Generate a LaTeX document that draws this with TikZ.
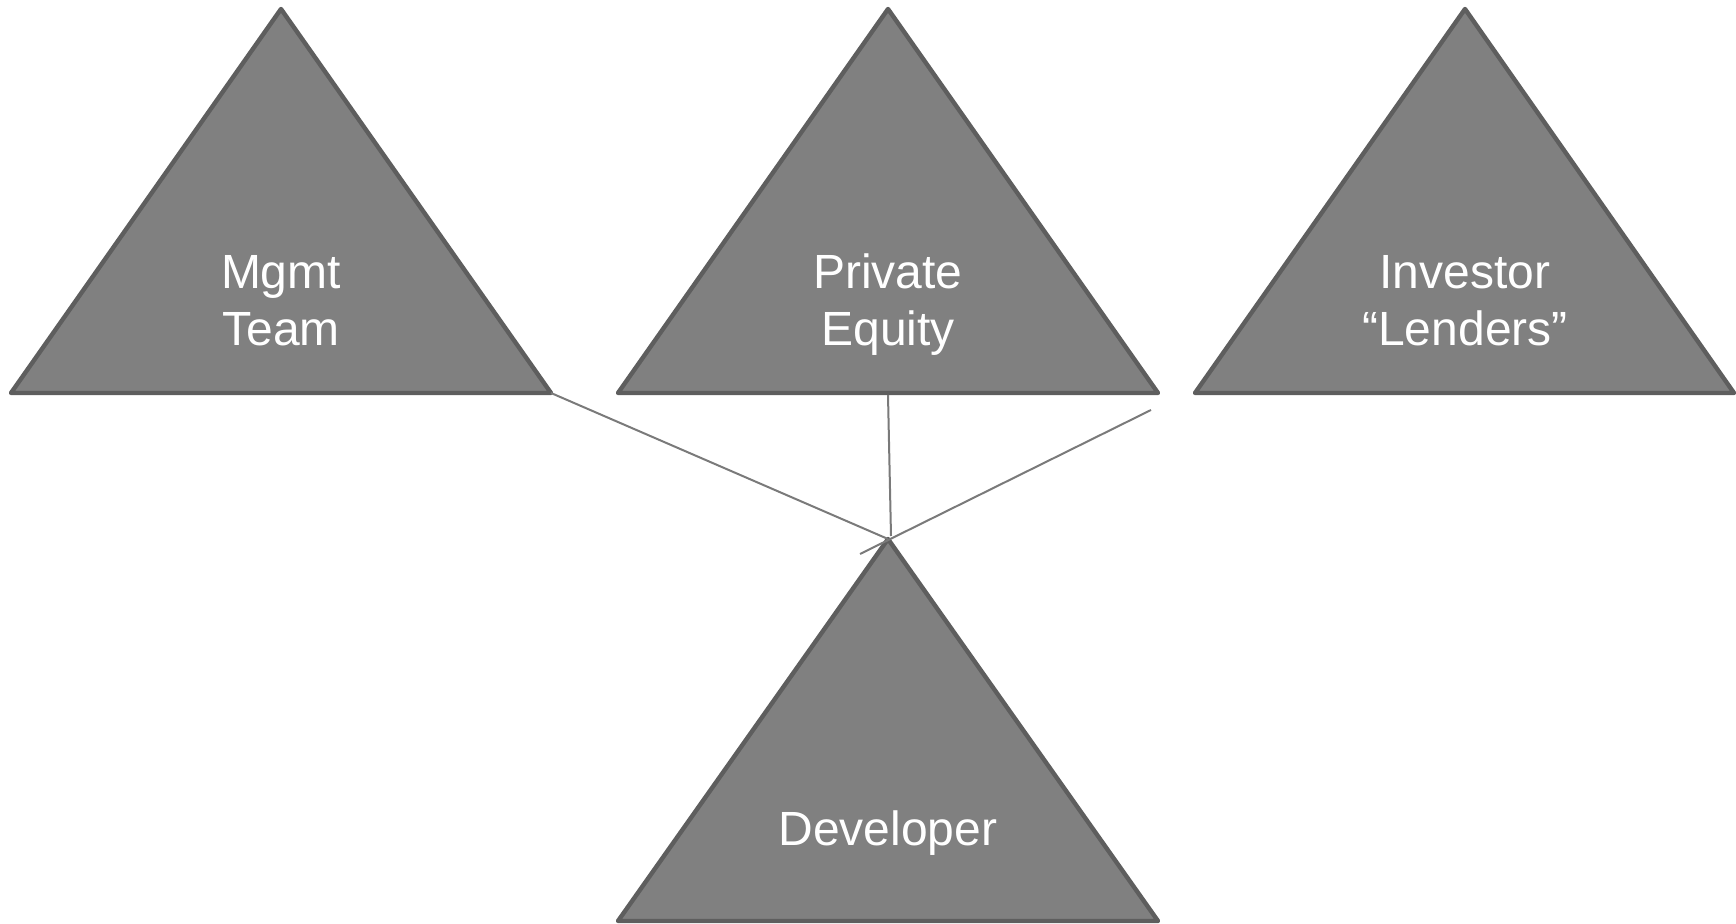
\documentclass[tikz,border=0pt]{standalone}
\usepackage{fontspec}
\setmainfont{Liberation Sans}
\definecolor{trifill}{HTML}{808080}
\definecolor{triline}{HTML}{5E5E5E}
\definecolor{connline}{HTML}{7A7A7A}
\begin{document}
\begin{tikzpicture}[x=0.5pt,y=-0.5pt,
  tri/.style={fill=trifill, draw=triline, line width=2.2pt, line join=round},
  lbl/.style={text=white, font=\fontsize{24}{28.8}\selectfont, inner sep=0pt, anchor=base},
  conn/.style={draw=connline, line width=1pt}]
\useasboundingbox (0,0) rectangle (1736,924);
% triangle corners
\coordinate (mA) at (281,9);   \coordinate (mL) at (11,393);  \coordinate (mR) at (551,393);
\coordinate (pA) at (888,9);   \coordinate (pL) at (618,393); \coordinate (pR) at (1158,393);
\coordinate (iA) at (1465,9);  \coordinate (iL) at (1195,393); \coordinate (iR) at (1734,393);
\coordinate (dA) at (888,539); \coordinate (dL) at (618,921); \coordinate (dR) at (1158,921);
\draw[tri] (mA) -- (mR) -- (mL) -- cycle;
\draw[tri] (pA) -- (pR) -- (pL) -- cycle;
\draw[tri] (iA) -- (iR) -- (iL) -- cycle;
\draw[tri] (dA) -- (dR) -- (dL) -- cycle;
% labels
\node[lbl] (m1) at (281,289) {Mgmt};
\node[lbl] (m2) at (281,346) {Team};
\node[lbl] (p1) at (888,289) {Private};
\node[lbl] (p2) at (888,346) {Equity};
\node[lbl] (i1) at (1465,289) {Investor};
\node[lbl] (i2) at (1465,346) {“Lenders”};
\node[lbl] (d1) at (888,846) {Developer};
% connectors
\coordinate (pB) at (888,395);
\coordinate (dT) at (891,536);
\coordinate (xS) at (1151,410);
\coordinate (xE) at (860,554);
\draw[conn] (mR) -- (dA);
\draw[conn] (pB) -- (dT);
\draw[conn] (xS) -- (xE);
\end{tikzpicture}
\end{document}
